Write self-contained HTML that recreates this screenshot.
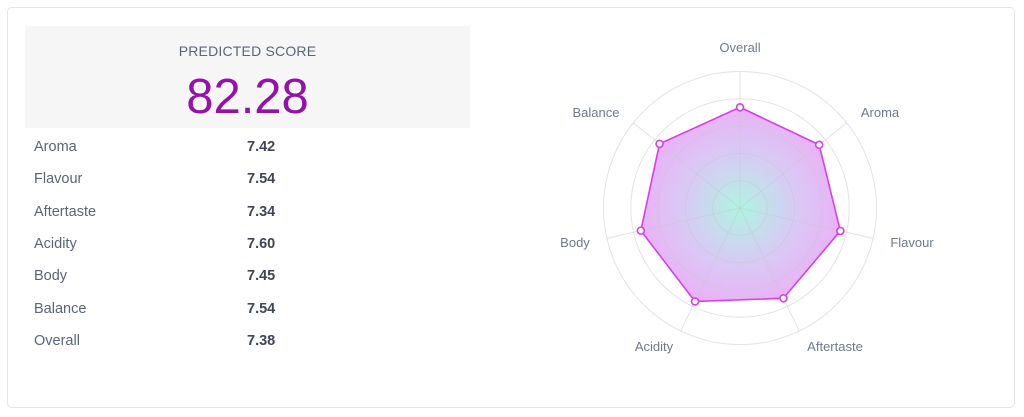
<!DOCTYPE html>
<html><head><style>
body{margin:0;width:1024px;height:417px;background:#fff;font-family:"Liberation Sans",sans-serif;position:relative;overflow:hidden}
.card{position:absolute;left:7px;top:7px;width:1008px;height:401px;border:1px solid #e2e4e8;border-radius:5px;box-sizing:border-box}
.score{position:absolute;left:25px;top:26px;width:445px;height:102px;background:#f6f6f7;text-align:center}
.score .t{position:absolute;top:17px;width:100%;font-size:14px;color:#5b6478;letter-spacing:.2px}
.score .v{position:absolute;top:43px;width:100%;font-size:49px;color:#9412a8}
.row{position:absolute;left:34px;font-size:14.5px;color:#5b6478}
.val{position:absolute;left:247px;font-size:14.5px;color:#3f4656;font-weight:bold}
svg{position:absolute;left:0;top:0}
</style></head><body>
<div class="card"></div>
<div class="score"><div class="t">PREDICTED SCORE</div><div class="v">82.28</div></div>
<div class="row" style="top:139px">Aroma</div><div class="val" style="top:139px">7.42</div>
<div class="row" style="top:171px">Flavour</div><div class="val" style="top:171px">7.54</div>
<div class="row" style="top:204px">Aftertaste</div><div class="val" style="top:204px">7.34</div>
<div class="row" style="top:236px">Acidity</div><div class="val" style="top:236px">7.60</div>
<div class="row" style="top:268px">Body</div><div class="val" style="top:268px">7.45</div>
<div class="row" style="top:301px">Balance</div><div class="val" style="top:301px">7.54</div>
<div class="row" style="top:333px">Overall</div><div class="val" style="top:333px">7.38</div>
<svg width="1024" height="417" id="s"></svg>
<script>
const cx=740,cy=208,R=136.5,s=document.getElementById('s');
const names=["Overall","Aroma","Flavour","Aftertaste","Acidity","Body","Balance"];
const vals=[7.38,7.42,7.54,7.34,7.60,7.45,7.54];
let h='<defs><radialGradient id="g" gradientUnits="userSpaceOnUse" cx="'+cx+'" cy="'+cy+'" r="105"><stop offset="0" stop-color="#a6f3df"/><stop offset="0.5" stop-color="#d2c6f3"/><stop offset="1" stop-color="#eaa6f6"/></radialGradient></defs>';
const pt=(i,r)=>{const a=-Math.PI/2+i*2*Math.PI/7;return [cx+r*Math.cos(a),cy+r*Math.sin(a)]};
const ps=vals.map((v,i)=>pt(i,R*v/10));
h+='<polygon points="'+ps.map(p=>p.join(',')).join(' ')+'" fill="url(#g)" fill-opacity="0.9"/>';
for(let i=1;i<=5;i++)h+='<circle cx="'+cx+'" cy="'+cy+'" r="'+(R*i/5)+'" fill="none" stroke="#c8c8d0" stroke-opacity="0.5" stroke-width="1"/>';
for(let i=0;i<7;i++){const p=pt(i,R);h+='<line x1="'+cx+'" y1="'+cy+'" x2="'+p[0]+'" y2="'+p[1]+'" stroke="#c8c8d0" stroke-opacity="0.5"/>';}
h+='<polygon points="'+ps.map(p=>p.join(',')).join(' ')+'" fill="none" stroke="#d53ef0" stroke-width="1.6"/>';
ps.forEach(p=>h+='<circle cx="'+p[0]+'" cy="'+p[1]+'" r="3.5" fill="#fff" stroke="#d53ef0" stroke-width="1.6"/>');
const lp=[[740,52],[880,117],[912,247],[835,351],[654,351],[575,247],[596,117]];
lp.forEach((l,i)=>h+='<text x="'+l[0]+'" y="'+l[1]+'" text-anchor="middle" font-size="13" fill="#6f7a8f" font-family="Liberation Sans, sans-serif">'+names[i]+'</text>');
s.innerHTML=h;
</script>
</body></html>
